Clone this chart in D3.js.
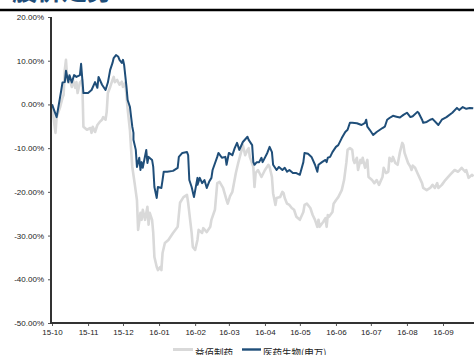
<!DOCTYPE html>
<html>
<head>
<meta charset="utf-8">
<script src="https://cdn.jsdelivr.net/npm/d3@7"></script>
<style>
  body { margin: 0; background: #fff; }
  svg { display: block; font-family: "Liberation Sans", Arial, sans-serif; }
</style>
</head>
<body>
<div id="chart"></div>
<script>
// period start, tick months
const startDate = "2015-10-01";
const tickMonths = ["2015-10-01", "2015-11-01", "2015-12-01", "2016-01-01", "2016-02-01", "2016-03-01",
                    "2016-04-01", "2016-05-01", "2016-06-01", "2016-07-01", "2016-08-01", "2016-09-01"];
const yTicks = [20, 10, 0, -10, -20, -30, -40, -50];
const seriesNames = ["益佰制药", "医药生物(申万)"];

// 医药生物(申万): days since start, cumulative return (%)
const indexDays = [0, 4, 8, 9, 11, 12, 14, 15, 17, 19, 21, 24, 25, 27, 31, 34, 37, 39, 40, 43, 46, 48, 50, 52, 53, 55, 57, 58, 60, 61, 62, 64, 65, 67, 68, 69, 70, 70,
  72, 73, 75, 76, 77, 78, 81, 82, 83, 86, 87, 88, 90, 91, 94, 95, 96, 99, 104, 108, 109, 112, 116, 117, 118, 120, 122, 125, 125, 127, 129, 131, 133, 135, 137, 138,
  142, 143, 146, 149, 150, 152, 155, 157, 159, 161, 164, 168, 169, 172, 173, 174, 176, 178, 180, 181, 185, 187, 189, 190, 193, 195, 198, 200, 202, 204, 207, 210,
  213, 216, 217, 220, 223, 226, 228, 229, 232, 235, 236, 237, 239, 241, 244, 246, 249, 252, 254, 256, 258, 262, 266, 269, 270, 271, 273, 276, 279, 284, 286, 288,
  290, 293, 296, 299, 302, 305, 308, 310, 314, 315, 318, 319, 322, 325, 327, 332, 335, 339, 344, 348, 350, 353, 356, 359, 362];
const indexVals = [0, -2.9, 3.3, 5.0, 5.1, 7.7, 5.1, 6.7, 5.0, 6.7, 6.3, 6.7, 9.3, 2.6, 2.6, 3.3, 5.1, 3.8, 6.3, 4.5, 3.3, 5.0, 7.9, 9.5, 10.6, 11.3, 10.9, 10.2, 9.5, 10.2, 9.0, 4.0, 1.0, -0.6, -2.9, -5.1, -6.5, -8.1,
  -10.4, -14.3, -12.2, -15.0, -13.2, -14.5, -10.4, -13.4, -12.0, -12.7, -14.3, -18.9, -21.4, -18.9, -19.1, -17.3, -15.4, -15.4, -15.2, -14.5, -12.0, -11.1, -10.9, -11.6, -17.3, -18.9, -21.2, -16.8, -18.4, -16.8, -18.0, -17.3, -19.1, -17.7, -16.8, -15.0,
  -12.0, -11.1, -12.2, -12.0, -13.8, -11.1, -11.6, -10.0, -8.8, -10.4, -8.6, -7.4, -8.1, -9.3, -13.2, -13.8, -13.2, -13.2, -12.2, -13.2, -11.1, -9.7, -10.9, -13.8, -15.0, -14.3, -15.0, -14.5, -15.4, -15.0, -15.7, -15.7,
  -16.1, -13.2, -11.1, -11.3, -12.0, -13.8, -15.4, -13.8, -13.2, -12.7, -13.2, -12.2, -12.0, -10.9, -9.7, -9.3, -7.7, -6.3, -5.8, -4.2, -4.2, -4.3, -4.7, -4.2, -3.5, -5.1, -5.8, -7.0, -6.3, -5.4, -5.1, -3.5,
  -3.1, -2.6, -2.8, -3.0, -2.4, -1.9, -2.9, -2.7, -1.7, -1.9, -3.5, -4.2, -4.0, -3.5, -3.3, -4.7, -3.5, -2.9, -1.9, -0.8, -1.3, -0.6, -1.0, -0.8, -0.9];

// 益佰制药: days since start, cumulative return (%)
const stockDays = [0, 1, 3, 4, 7, 9, 10, 11, 12, 13, 14, 15, 17, 18, 20, 21, 22, 24, 26, 27, 30, 33, 34, 35, 37, 39, 41, 43, 44, 46, 47, 48, 50, 52, 53, 54, 56, 58, 60, 61, 63,
  65, 67, 68, 69, 71, 73, 74, 76, 77, 78, 80, 82, 83, 84, 86, 87, 88, 90, 91, 93, 94, 95, 97, 100, 104, 108, 110, 113, 116, 117, 120, 121, 123, 125, 126, 129, 130, 133, 136, 137,
  140, 142, 144, 147, 150, 151, 153, 155, 158, 160, 163, 164, 166, 168, 169, 170, 173, 174, 175, 177, 180, 183, 186, 187, 189, 190, 192, 193, 196, 198, 199, 200, 202, 204, 206, 208,
  210, 213, 216, 217, 219, 222, 224, 226, 228, 229, 230, 233, 235, 236, 237, 238, 241, 242, 244, 246, 249, 251, 253, 254, 256, 258, 259, 260, 262, 263, 265, 266, 267, 269, 271, 272,
  275, 277, 279, 281, 284, 285, 287, 289, 290, 292, 293, 295, 297, 299, 301, 302, 303, 306, 308, 309, 310, 312, 314, 318, 319, 322, 325, 327, 329, 331, 332, 335, 338, 342, 346, 349,
  352, 355, 356, 358, 361, 362];
const stockVals = [0, -2.4, -6.5, -2.9, -0.6, 1.5, 2.2, 7.9, 10.2, 6.3, 5.0, 6.0, 4.0, 5.6, 3.8, 5.1, 2.6, 5.0, 5.6, -5.1, -5.8, -5.4, -6.5, -5.1, -6.3, -4.7, -4.0, -3.5, -2.9, -3.5, -1.7, 2.6, 4.0, 5.6, 6.3, 5.1, 5.6, 4.5, 5.2, 4.0, 5.0,
  -1.0, -6.0, -10.4, -14.3, -18.0, -21.9, -28.7, -24.8, -26.4, -24.1, -26.4, -23.4, -27.5, -24.8, -26.4, -29.4, -34.9, -37.2, -37.9, -37.2, -37.9, -34.0, -31.7, -31.0, -29.4, -28.0, -22.5, -21.2, -20.7, -22.5, -29.4, -32.6, -33.3, -31.0, -28.7, -29.4, -28.3, -29.2, -28.0, -26.4,
  -24.1, -18.0, -17.7, -19.1, -21.9, -22.7, -21.0, -20.0, -15.7, -13.4, -10.4, -9.3, -11.6, -10.4, -10.0, -12.0, -14.3, -18.9, -15.7, -15.0, -16.6, -15.0, -13.8, -14.3, -16.6, -20.3, -23.0, -21.4, -21.2, -20.0, -20.3, -21.4, -22.7, -23.0, -23.7, -24.1,
  -25.7, -26.4, -24.6, -23.0, -22.7, -23.7, -25.3, -26.4, -28.0, -26.4, -28.0, -26.9, -26.0, -28.0, -25.3, -25.7, -24.6, -22.7, -21.9, -21.2, -19.6, -17.3, -13.2, -10.4, -10.0, -10.4, -12.7, -13.4, -12.2, -15.0, -12.7, -13.4, -12.2, -14.5, -12.7, -16.6,
  -17.3, -18.0, -17.3, -18.4, -16.6, -14.5, -15.7, -15.4, -12.2, -13.0, -12.0, -13.4, -13.8, -10.9, -8.8, -9.3, -11.1, -13.4, -14.3, -15.0, -14.0, -14.5, -15.7, -18.0, -19.1, -19.6, -19.1, -18.4, -19.1, -18.0, -19.1, -18.4, -17.3, -16.1, -15.0, -15.4,
  -14.5, -15.4, -15.0, -16.8, -16.1, -16.5];

const width = 474, height = 355;
const parse = d3.timeParse("%Y-%m-%d");
const start = parse(startDate);

const svg = d3.select("#chart").append("svg")
    .attr("width", width)
    .attr("height", height);

// cut-off title + rule at the top
svg.append("text")
    .attr("x", 12).attr("y", 0)
    .style("font-family", "'Noto Sans CJK SC', sans-serif")
    .style("font-size", "25px")
    .style("font-weight", "bold")
    .style("fill", "#1f4e79")
    .text("股价走势");
svg.append("line")
    .attr("x1", 0).attr("x2", width)
    .attr("y1", 10).attr("y2", 10)
    .style("stroke", "#000")
    .style("stroke-width", 2.5);

const x = d3.scaleTime()
    .domain([start, parse(tickMonths[tickMonths.length - 1])])
    .range([52, 443]);
const y = d3.scaleLinear().domain([-50, 20]).range([323, 17]);

const toPoints = (days, vals) => days.map((d, i) => [d3.timeDay.offset(start, d), vals[i]]);
const line = d3.line().x(d => x(d[0])).y(d => y(d[1]));

// y axis
const yAxis = svg.append("g")
    .attr("transform", "translate(51,0)")
    .call(d3.axisLeft(y).tickValues(yTicks).tickSize(3).tickPadding(4)
        .tickFormat(d => d.toFixed(2) + "%"));
// x axis
const xAxis = svg.append("g")
    .attr("transform", "translate(0,323)")
    .call(d3.axisBottom(x).tickValues(tickMonths.map(parse)).tickSize(3).tickPadding(3)
        .tickFormat(d3.timeFormat("%y-%m")));

[yAxis, xAxis].forEach(g => {
    g.select(".domain").remove();
    g.selectAll(".tick line").style("stroke", "#555");
    g.selectAll(".tick text")
        .style("font-family", "'Liberation Sans', Arial, sans-serif")
        .style("font-size", "8px")
        .style("fill", "#222");
});

// lines
svg.append("path")
    .datum(toPoints(stockDays, stockVals))
    .attr("d", line)
    .style("fill", "none")
    .style("stroke", "#d9d9d9")
    .style("stroke-width", 2.6)
    .style("stroke-linejoin", "round");
svg.append("path")
    .datum(toPoints(indexDays, indexVals))
    .attr("d", line)
    .style("fill", "none")
    .style("stroke", "#1f4e79")
    .style("stroke-width", 2)
    .style("stroke-linejoin", "round");

// axis lines
svg.append("line")
    .attr("x1", 51).attr("x2", 51).attr("y1", 17).attr("y2", 324)
    .style("stroke", "#333").style("stroke-width", 2);
svg.append("line")
    .attr("x1", 50).attr("x2", width).attr("y1", 323).attr("y2", 323)
    .style("stroke", "#333").style("stroke-width", 2);

// legend (cut off by the bottom edge, as in the source)
const legend = svg.append("g").attr("transform", "translate(0,349.5)");
const legendItems = [
    { name: seriesNames[0], color: "#d9d9d9", x: 173, len: 20, w: 3 },
    { name: seriesNames[1], color: "#1f4e79", x: 242, len: 19, w: 2.4 }
];
legendItems.forEach(it => {
    legend.append("line")
        .attr("x1", it.x).attr("x2", it.x + it.len)
        .attr("y1", 0).attr("y2", 0)
        .style("stroke", it.color).style("stroke-width", it.w);
    legend.append("text")
        .attr("x", it.x + it.len + 2).attr("y", 6.5)
        .style("font-family", "'Noto Sans CJK SC', sans-serif")
        .style("font-size", "9.5px")
        .style("fill", "#222")
        .text(it.name);
});
</script>
</body>
</html>
